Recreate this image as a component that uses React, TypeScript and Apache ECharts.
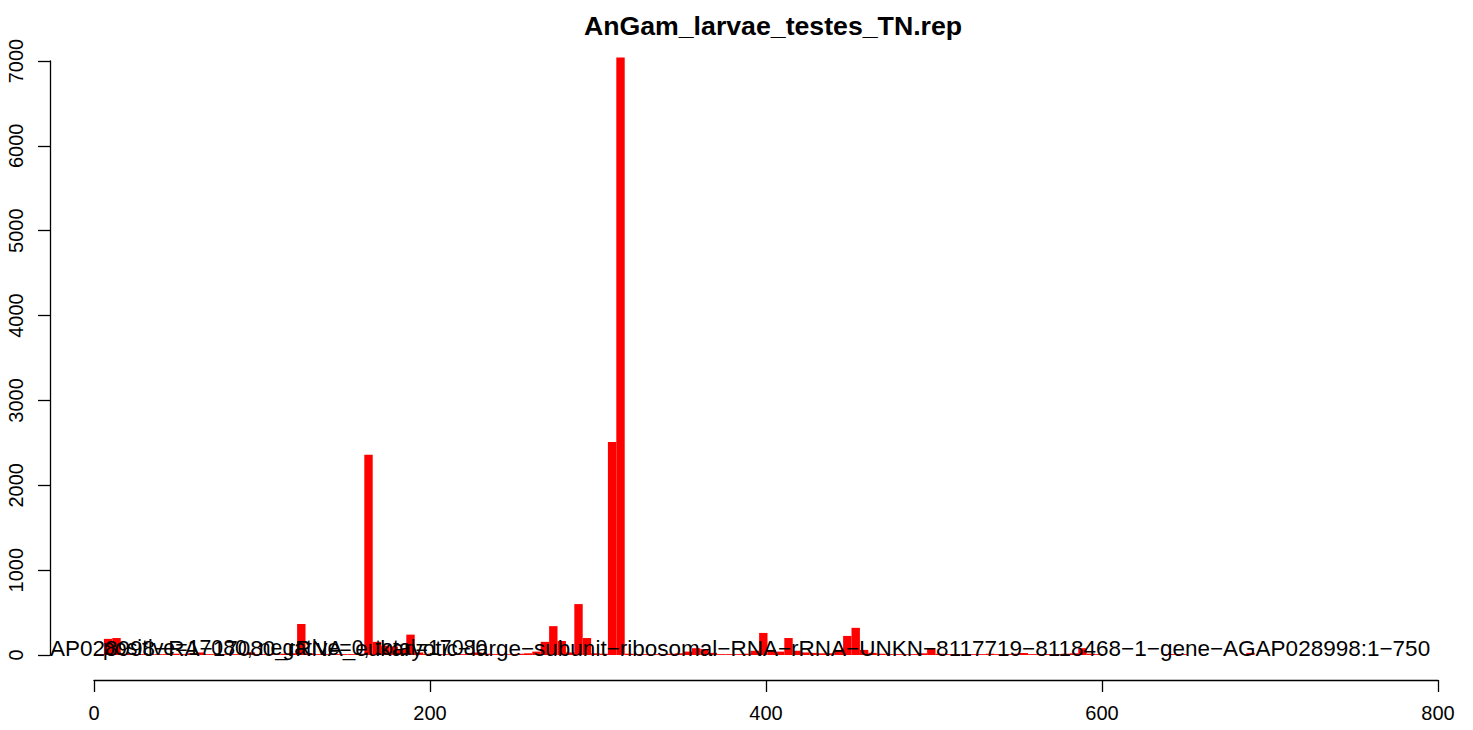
import React, { useEffect, useRef } from "react";
import * as echarts from "echarts";

const chartTitle = "AnGam_larvae_testes_TN.rep";
const geneLabel =
  "AP028998−RA−17080_rRNA_eukaryotic−large−subunit−ribosomal−RNA−rRNA−UNKN−8117719−8118468−1−gene−AGAP028998:1−750";
const countLabel = "positive=17080, negative=0, total=17080";

// read counts per 5-nt bin (bin i centred at binOffset + binWidth * i)
const binWidth = 5;
const binOffset = 3.4;
const counts = [
  10, 190, 200, 15, 10, 10, 10, 10, 10, 15,
  10, 20, 30, 10, 10, 10, 10, 15, 30, 10,
  10, 10, 15, 20, 365, 20, 10, 10, 10, 10,
  10, 15, 2360, 155, 110, 100, 70, 240, 30, 15,
  10, 10, 10, 10, 20, 30, 15, 10, 10, 10,
  15, 20, 40, 155, 340, 165, 30, 600, 200, 20,
  15, 2510, 7040, 15, 10, 10, 10, 10, 15, 20,
  40, 80, 70, 25, 10, 10, 10, 15, 50, 260,
  60, 40, 200, 50, 30, 25, 20, 20, 60, 225,
  320, 60, 25, 15, 10, 10, 10, 10, 20, 80,
  15, 10, 10, 10, 10, 10, 15, 10, 10, 15,
  25, 10, 10, 10, 10, 15, 20, 80, 15, 10,
  0, 0, 0, 0, 0, 0, 0, 10, 10, 10,
  0, 0, 0, 0, 0, 0, 0, 25,
];

const yMin = 0;
const yMax = 7000;
const yStep = 1000;
const xMin = 0;
const xMax = 800;
const xStep = 200;

const FONT = "'Liberation Sans', Arial, Helvetica, sans-serif";

export default function App() {
  const ref = useRef<HTMLDivElement>(null);
  useEffect(() => {
    document.body.style.margin = "0";
    if (!ref.current) return;
    const chart = echarts.init(ref.current, null, { renderer: "svg" });
    const barData = counts.map((c, i) => [binOffset + binWidth * i, c]);
    chart.setOption({
      animation: false,
      backgroundColor: "#ffffff",
      title: {
        text: chartTitle,
        left: 768,
        top: 7,
        textAlign: "center",
        textStyle: { fontFamily: FONT, fontSize: 26.7, fontWeight: "bold", color: "#000" },
      },
      grid: [
        { left: 50, right: 35, top: 61, bottom: 75, containLabel: false, outerBoundsMode: "none" },
        { left: 94, right: 35, top: 679, bottom: 50, containLabel: false, outerBoundsMode: "none" },
      ],
      xAxis: [
        { gridIndex: 0, type: "value", min: -26.19, max: xMax, show: false },
        {
          gridIndex: 1,
          type: "value",
          min: xMin,
          max: xMax,
          interval: xStep,
          position: "bottom",
          axisLine: { show: true, onZero: false, lineStyle: { color: "#000", width: 1.3 } },
          axisTick: { show: true, length: 12, lineStyle: { color: "#000", width: 1.3 } },
          axisLabel: {
            margin: 23,
            fontSize: 20,
            fontFamily: FONT,
            color: "#000",
            formatter: (v: number) => String(v),
          },
          splitLine: { show: false },
        },
      ],
      yAxis: [
        {
          gridIndex: 0,
          type: "value",
          min: yMin,
          max: yMax,
          interval: yStep,
          position: "left",
          axisLine: { show: true, onZero: false, lineStyle: { color: "#000", width: 1.3 } },
          axisTick: { show: true, length: 12, lineStyle: { color: "#000", width: 1.3 } },
          axisLabel: {
            rotate: 90,
            margin: 24,
            fontSize: 20,
            fontFamily: FONT,
            color: "#000",
            formatter: (v: number) => String(v),
          },
          splitLine: { show: false },
        },
        { gridIndex: 1, type: "value", show: false },
      ],
      series: [
        {
          type: "bar",
          xAxisIndex: 0,
          yAxisIndex: 0,
          data: barData,
          barWidth: 8.4,
          clip: false,
          itemStyle: { color: "#ff0000" },
        },
      ],
      graphic: [
        {
          type: "text",
          x: 50,
          y: 648,
          z: 100,
          style: {
            text: geneLabel,
            fontSize: 22.5,
            fontFamily: FONT,
            fill: "#000",
            align: "left",
            verticalAlign: "middle",
          },
        },
        {
          type: "text",
          x: 103,
          y: 648,
          z: 101,
          style: {
            text: countLabel,
            fontSize: 21.3,
            fontFamily: FONT,
            fill: "#000",
            align: "left",
            verticalAlign: "middle",
          },
        },
      ],
    });
    return () => chart.dispose();
  }, []);
  return <div ref={ref} style={{ width: 1473, height: 730 }} />;
}
